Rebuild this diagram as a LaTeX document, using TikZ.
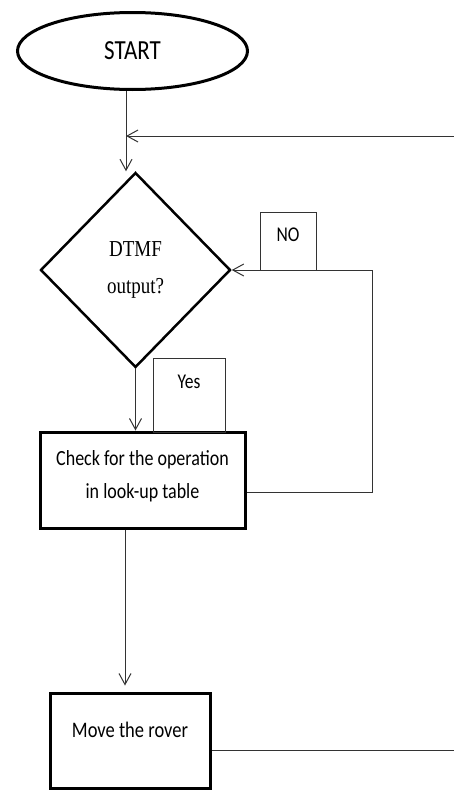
\documentclass[tikz,border=0pt]{standalone}
\usepackage{fontspec}
\usepackage{graphicx}
\setmainfont{Carlito}
\newfontfamily\serifTNR{Liberation Serif}
\usetikzlibrary{shapes.geometric,arrows.meta}
\newcommand{\vstretch}[1]{\scalebox{1}[1.2]{#1}}
\tikzset{
  thickbox/.style={draw=black, line width=3pt, rectangle, inner sep=0pt, align=center},
  thinbox/.style={draw=black!80, line width=1pt, rectangle, inner sep=0pt, align=center},
  conn/.style={draw=black!80, line width=1pt},
  arr/.style={conn, -{Straight Barb[length=11pt,width=12pt,line width=1pt]}},
}
\begin{document}
\begin{tikzpicture}[x=1pt,y=-1pt]
\useasboundingbox (0,0) rectangle (454,790);
% nodes
\node[ellipse, draw=black, line width=3pt, minimum width=230pt, minimum height=77pt, inner sep=0pt,
      font=\fontsize{23}{26}\selectfont] (start) at (132.5,51) {\vstretch{START}};
\node[diamond, draw=black, line width=2.5pt, minimum width=190pt, minimum height=195pt, inner sep=0pt,
      align=center, font=\serifTNR\fontsize{19}{37}\selectfont] (dec) at (135.5,270) {\vstretch{DTMF}\\\vstretch{output?}};
\node[thickbox, minimum width=205pt, minimum height=96pt, text depth=11pt,
      font=\fontsize{18}{33}\selectfont] (check) at (142.5,480) {\vstretch{Check for the operation}\\\vstretch{in look-up table}};
\node[thickbox, minimum width=160pt, minimum height=95pt, text depth=21pt,
      font=\fontsize{18.5}{22}\selectfont] (move) at (130,740.5) {\vstretch{Move the rover}};
\node[thinbox, minimum width=56pt, minimum height=58pt, text depth=12pt,
      font=\fontsize{17.5}{20}\selectfont] (no) at (288,241) {\vstretch{NO}};
\node[thinbox, minimum width=72pt, minimum height=74pt, text depth=26pt,
      font=\fontsize{17.5}{20}\selectfont] (yes) at (189,395) {\vstretch{Yes}};
% coordinates
\coordinate (j) at (126,136);
\coordinate (r1) at (454,136);
\coordinate (nr) at (372,270);
\coordinate (r2) at (454,750);
% connectors
\draw[conn] (start.south -| j) -- (j);
\draw[arr] (j) -- (dec.north -| j);
\draw[arr] (r1) -- (j);
\draw[arr] (dec.south) -- (dec.south |- check.north);
\draw[arr] ([yshift=-12pt]check.east) -- ([yshift=-12pt]check.east -| nr) -- (nr) -- (dec.east);
\draw[arr, shorten >=6pt] ([xshift=-17.5pt]check.south) -- ([xshift=-5pt]move.north);
\draw[conn] ([yshift=-9.5pt]move.east) -- (r2);
\end{tikzpicture}
\end{document}
